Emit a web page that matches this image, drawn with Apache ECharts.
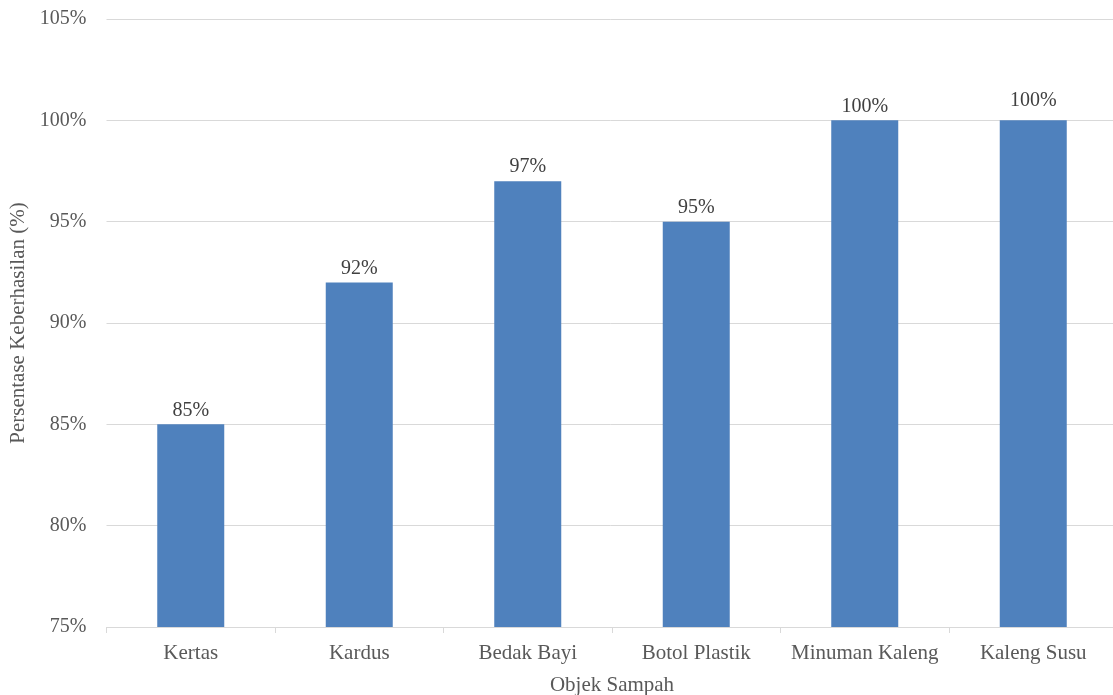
<!DOCTYPE html>
<html>
<head>
<meta charset="utf-8">
<script src="https://cdn.jsdelivr.net/npm/echarts@6/dist/echarts.min.js"></script>
<style>
  html, body { margin: 0; padding: 0; background: #fff; overflow: hidden; }
  #chart { width: 1113px; height: 695px; }
</style>
</head>
<body>
<div id="chart"></div>
<script>
// Success rate per waste object type
const categories = ['Kertas', 'Kardus', 'Bedak Bayi', 'Botol Plastik', 'Minuman Kaleng', 'Kaleng Susu'];
const successRate = [85, 92, 97, 95, 100, 100];
const yTicks = { min: 75, max: 105, step: 5 };

const FONT = '"Liberation Serif", "Times New Roman", serif';
const chart = echarts.init(document.getElementById('chart'));

// the last data label sits a little higher than the others
const barData = successRate.map((v, i) =>
  i === successRate.length - 1 ? { value: v, label: { offset: [0, -6] } } : v
);

chart.setOption({
  animation: false,
  grid: { left: 106.5, width: 1011, top: 19, bottom: 68, containLabel: false, outerBoundsMode: 'none' },
  xAxis: {
    type: 'category',
    data: categories,
    name: 'Objek Sampah',
    nameLocation: 'middle',
    nameGap: 48,
    nameTextStyle: { fontFamily: FONT, fontSize: 21, color: '#595959' },
    axisLine: { lineStyle: { color: '#d9d9d9', width: 1 } },
    axisTick: { show: true, alignWithLabel: false, length: 6, lineStyle: { color: '#d9d9d9' } },
    axisLabel: { interval: 0, fontFamily: FONT, fontSize: 21, color: '#595959', margin: 16 }
  },
  yAxis: {
    type: 'value',
    min: yTicks.min,
    max: yTicks.max,
    interval: yTicks.step,
    name: 'Persentase Keberhasilan (%)',
    nameLocation: 'middle',
    nameGap: 77,
    nameTextStyle: { fontFamily: FONT, fontSize: 21, color: '#595959' },
    axisLine: { show: false },
    axisTick: { show: false },
    axisLabel: { fontFamily: FONT, fontSize: 20, color: '#595959', margin: 20, padding: [4, 0, 0, 0], formatter: v => v + '%' },
    splitLine: { lineStyle: { color: '#d9d9d9', width: 1 } }
  },
  series: [{
    type: 'bar',
    data: barData,
    barWidth: 67,
    itemStyle: { color: '#4F81BD' },
    label: {
      show: true,
      position: 'top',
      distance: 4,
      fontFamily: FONT,
      fontSize: 20,
      color: '#404040',
      formatter: p => p.value + '%'
    }
  }]
});
</script>
</body>
</html>
